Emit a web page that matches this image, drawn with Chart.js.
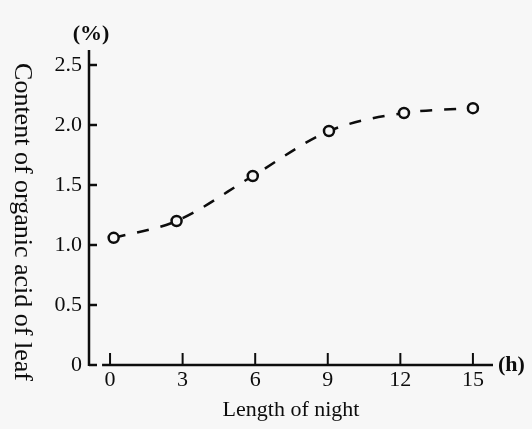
<!DOCTYPE html>
<html>
<head>
<meta charset="utf-8">
<script src="https://cdn.jsdelivr.net/npm/chart.js@4/dist/chart.umd.min.js"></script>
<style>
  html, body { margin: 0; padding: 0; background: #f7f7f7; }
  #wrap { width: 532px; height: 429px; }
</style>
</head>
<body>
<div id="wrap"><canvas id="c" width="532" height="429"></canvas></div>
<script>
// Data
const nightLength = [0.15, 2.75, 5.9, 9.05, 12.15, 15];      // h
const acidContent = [1.06, 1.2, 1.575, 1.95, 2.1, 2.14];     // %
const xTicks = [0, 3, 6, 9, 12, 15];
const yTicks = [0, 0.5, 1.0, 1.5, 2.0, 2.5];
const xTitle = 'Length of night';
const yTitle = 'Content of organic acid of leaf';
const xUnit = '(h)';
const yUnit = '(%)';

const INK = '#0d0d0d';
const BG = '#f7f7f7';
const SERIF = '"Liberation Serif", "Times New Roman", serif';

const axesPlugin = {
  id: 'axesPlugin',
  afterDatasetsDraw(chart) {
    const {ctx, chartArea: a, scales: {x, y}} = chart;
    ctx.save();
    ctx.strokeStyle = INK;
    ctx.lineWidth = 2.5;
    ctx.lineCap = 'butt';
    // y axis line
    ctx.beginPath();
    ctx.moveTo(a.left, a.top);
    ctx.lineTo(a.left, a.bottom + 1);
    ctx.stroke();
    // y ticks (inward)
    yTicks.forEach(v => {
      const py = y.getPixelForValue(v);
      ctx.beginPath();
      ctx.moveTo(a.left, py);
      ctx.lineTo(a.left + 8, py);
      ctx.stroke();
    });
    // x axis line (broken from the y axis)
    ctx.beginPath();
    ctx.moveTo(x.getPixelForValue(-0.33), a.bottom);
    ctx.lineTo(a.right, a.bottom);
    ctx.stroke();
    // x ticks (inward)
    ctx.lineWidth = 2;
    xTicks.forEach(v => {
      const px = x.getPixelForValue(v);
      ctx.beginPath();
      ctx.moveTo(px, a.bottom);
      ctx.lineTo(px, a.bottom - 12);
      ctx.stroke();
    });
    // unit labels
    ctx.fillStyle = INK;
    ctx.font = 'bold 22px ' + SERIF;
    ctx.textBaseline = 'middle';
    ctx.textAlign = 'center';
    ctx.fillText(yUnit, a.left + 2, a.top - 16);
    ctx.textAlign = 'left';
    ctx.fillText(xUnit, a.right + 5, a.bottom);
    // y title, reading top to bottom
    ctx.font = '26px ' + SERIF;
    ctx.textAlign = 'center';
    ctx.translate(22, 222);
    ctx.rotate(Math.PI / 2);
    ctx.fillText(yTitle, 0, 0);
    ctx.restore();
  }
};

new Chart(document.getElementById('c'), {
  type: 'line',
  data: {
    datasets: [{
      data: nightLength.map((v, i) => ({x: v, y: acidContent[i]})),
      borderColor: INK,
      borderWidth: 2.5,
      borderDash: [12, 12],
      cubicInterpolationMode: 'monotone',
      pointRadius: 5,
      pointBorderWidth: 2.5,
      pointBorderColor: INK,
      pointBackgroundColor: BG,
      fill: false
    }]
  },
  options: {
    responsive: false,
    animation: false,
    layout: { padding: { top: 50, right: 39, left: 0, bottom: 0 } },
    plugins: { legend: { display: false }, tooltip: { enabled: false } },
    scales: {
      x: {
        type: 'linear',
        min: -0.87,
        max: 15.83,
        afterBuildTicks: s => { s.ticks = xTicks.map(v => ({value: v})); },
        afterFit: s => { s.height = 64; },
        grid: { display: false, drawTicks: false },
        border: { display: false },
        ticks: { color: INK, font: { family: SERIF, size: 22 }, padding: 2, maxRotation: 0 },
        title: { display: true, text: xTitle, color: INK, font: { family: SERIF, size: 22 }, padding: { top: 0, bottom: 6 } }
      },
      y: {
        type: 'linear',
        min: 0,
        max: 2.625,
        afterBuildTicks: s => { s.ticks = yTicks.map(v => ({value: v})); },
        afterFit: s => { s.width = 89; },
        grid: { display: false, drawTicks: false },
        border: { display: false },
        ticks: {
          color: INK, font: { family: SERIF, size: 22 }, padding: 7,
          callback: v => v === 0 ? '0' : v.toFixed(1)
        },
        title: { display: false, text: yTitle }
      }
    }
  },
  plugins: [axesPlugin]
});
</script>
</body>
</html>
